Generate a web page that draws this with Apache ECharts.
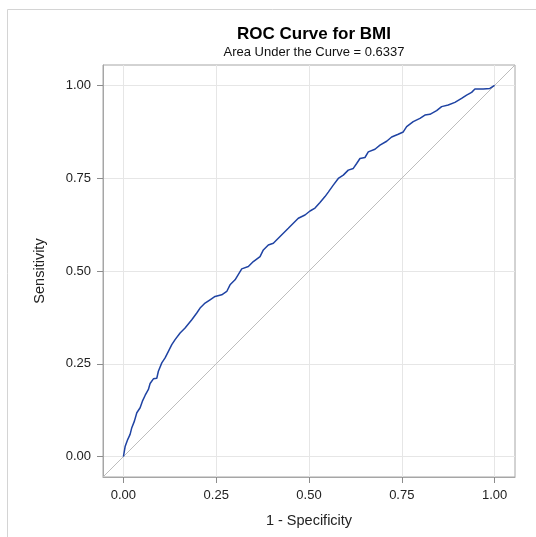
<!DOCTYPE html>
<html>
<head>
<meta charset="utf-8">
<script src="https://cdn.jsdelivr.net/npm/echarts@6/dist/echarts.min.js"></script>
<style>
  html, body { margin: 0; padding: 0; background: #ffffff; }
  #chart { width: 536px; height: 537px; }
</style>
</head>
<body>
<div id="chart"></div>
<script>
// ---- data ----
const titleText = 'ROC Curve for BMI';
const subtitleText = 'Area Under the Curve = 0.6337';
const xAxisTitle = '1 - Specificity';
const yAxisTitle = 'Sensitivity';
const tickValues = [0, 0.25, 0.5, 0.75, 1];

// 1 - specificity (false positive rate)
const fprValues = [
  0, 0.0046, 0.0118, 0.018, 0.0226, 0.0296, 0.0361, 0.045, 0.0512, 0.0584,
  0.0673, 0.0719, 0.0808, 0.0899, 0.0942, 0.1034, 0.1123, 0.1212, 0.1303, 0.1392,
  0.1527, 0.1661, 0.1842, 0.1976, 0.2065, 0.22, 0.2334, 0.2469, 0.2649, 0.2784,
  0.2873, 0.3008, 0.3188, 0.3366, 0.35, 0.3681, 0.377, 0.3904, 0.4039, 0.4173,
  0.4308, 0.4443, 0.4577, 0.4712, 0.4892, 0.5027, 0.5162, 0.5296, 0.5431, 0.552,
  0.5654, 0.5789, 0.5924, 0.6058, 0.6193, 0.6284, 0.6373, 0.6508, 0.6597, 0.6777,
  0.6912, 0.7092, 0.7227, 0.7404, 0.7539, 0.7631, 0.7808, 0.7989, 0.8123, 0.8258,
  0.8438, 0.8573, 0.8751, 0.8931, 0.9111, 0.9246, 0.9381, 0.947, 0.9693, 0.9873, 1
];
// sensitivity (true positive rate)
const tprValues = [
  0, 0.0269, 0.0465, 0.0599, 0.0779, 0.0956, 0.1182, 0.1316, 0.1493, 0.1647,
  0.1808, 0.1969, 0.2095, 0.2111, 0.2299, 0.2525, 0.2659, 0.2836, 0.3016, 0.3151,
  0.3331, 0.3465, 0.3688, 0.3868, 0.4002, 0.4136, 0.4225, 0.4314, 0.4359, 0.4448,
  0.4628, 0.4762, 0.5058, 0.512, 0.5254, 0.5388, 0.5568, 0.5702, 0.5748, 0.5882,
  0.6017, 0.6151, 0.6285, 0.642, 0.6508, 0.6616, 0.6696, 0.6844, 0.7005, 0.7126,
  0.7314, 0.7494, 0.7583, 0.7717, 0.7763, 0.7897, 0.8031, 0.8058, 0.8208, 0.8281,
  0.8389, 0.8496, 0.8611, 0.8684, 0.8746, 0.8891, 0.9025, 0.9114, 0.9202, 0.9221,
  0.932, 0.9428, 0.9471, 0.9543, 0.9651, 0.9739, 0.9812, 0.9901, 0.9901, 0.9919, 1
];
// chance (reference) diagonal
const diagX = [-0.055, 1.055];
const diagY = [-0.055, 1.055];

const axisMin = -0.055;
const axisMax = 1.055;

const rocData = fprValues.map((x, i) => [x, tprValues[i]]);
const diagData = diagX.map((x, i) => [x, diagY[i]]);

const FONT = "'Liberation Sans', Arial, sans-serif";
const chart = echarts.init(document.getElementById('chart'), null, { renderer: 'canvas' });

function makeAxis(name, gap) {
  return {
    type: 'value',
    min: axisMin,
    max: axisMax,
    name: name,
    nameLocation: 'middle',
    nameGap: gap,
    nameTextStyle: { fontSize: 14.5, color: '#222', fontFamily: FONT },
    axisLine: { show: true, onZero: false, lineStyle: { color: '#a6a6a6', width: 1 } },
    axisTick: {
      show: true, length: 6, inside: false,
      customValues: tickValues,
      lineStyle: { color: '#8c8c8c', width: 1 }
    },
    axisLabel: {
      show: true,
      customValues: tickValues,
      formatter: v => Number(v).toFixed(2),
      fontSize: 13, color: '#222', fontFamily: FONT, margin: 12
    },
    splitLine: { show: true, lineStyle: { color: '#e6e6e6', width: 1 } }
  };
}

const option = {
  animation: false,
  backgroundColor: '#ffffff',
  textStyle: { fontFamily: FONT },
  title: [
    {
      text: titleText, left: 309, top: 21, textAlign: 'center',
      textStyle: { fontSize: 17, fontWeight: 'bold', color: '#000', fontFamily: FONT }
    },
    {
      text: subtitleText, left: 309, top: 41, textAlign: 'center',
      textStyle: { fontSize: 13, fontWeight: 'normal', color: '#111', fontFamily: FONT }
    }
  ],
  graphic: [
    {
      type: 'rect', silent: true, z: -10,
      shape: { x: 7.5, y: 9.5, width: 700, height: 700 },
      style: { fill: 'none', stroke: '#d4d4d4', lineWidth: 1 }
    }
  ],
  grid: {
    left: 103, top: 65, width: 412, height: 412,
    show: true, borderColor: '#a6a6a6', borderWidth: 1, backgroundColor: 'transparent'
  },
  xAxis: makeAxis(xAxisTitle, 36),
  yAxis: makeAxis(yAxisTitle, 56),
  series: [
    {
      type: 'line', data: diagData, showSymbol: false, silent: true,
      lineStyle: { color: '#bdbdbd', width: 1 }, z: 2
    },
    {
      type: 'line', data: rocData, showSymbol: false, silent: true,
      lineStyle: { color: '#1f43a3', width: 1.5 }, z: 3
    }
  ]
};
chart.setOption(option);
</script>
</body>
</html>
